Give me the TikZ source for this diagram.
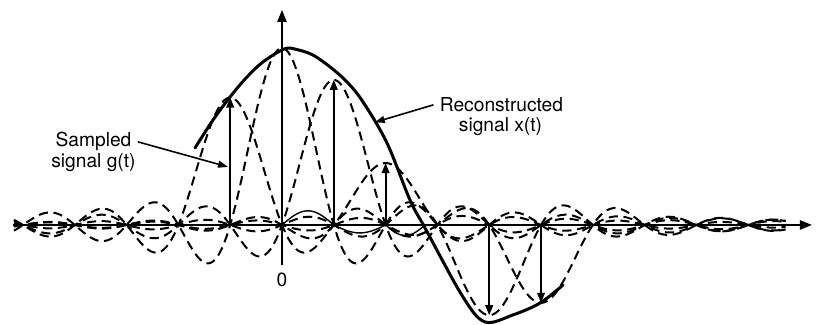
\documentclass[tikz,border=0pt]{standalone}
\usepackage{fontspec}
\setmainfont{TeX Gyre Heros}
\usetikzlibrary{arrows.meta}
\tikzset{
  axis/.style={-{Triangle[length=6pt, width=4.6pt]}, line width=1pt},
  samparr/.style={-{Triangle[length=5pt, width=3.8pt]}, line width=0.9pt},
  labarr/.style={-{Triangle[length=5pt, width=3.4pt]}, line width=0.8pt},
  sincd/.style={dash pattern=on 4.6pt off 2.8pt, line width=1pt},
  recon/.style={line width=1.5pt, line cap=round},
  ripple/.style={line width=0.7pt},
  lab/.style={font=\fontsize{9.6}{11}\selectfont, inner sep=3pt},
}

\begin{document}
\begin{tikzpicture}[x=25.9pt, y=88.5pt,
  declare function={sinc(\t)=sin(deg(pi*\t))/(pi*\t);}]
\useasboundingbox (-5.444,-0.565) rectangle (10.347,1.271);

% ===================== interpolating sinc pulses ===========================
\foreach \k/\g in {-1/0.72, 0/1, 1/0.82, 2/0.35, 4/-0.51, 5/-0.44}{
  \draw[sincd] plot[domain=-5.175:9.725, samples=299] (\x, {\g*sinc(\x-(\k))});}

% small solid ripple near the axis
\draw[ripple] plot[domain=0:1, samples=30] (\x, {0.08*sin(180*\x)})
  -- plot[domain=1:2, samples=30] (\x, {0.045*sin(180*\x)})
  -- plot[domain=2:2.76, samples=25] (\x, {-0.06*sin(180*(\x-2)/0.76)});

% ===================== axes ================================================
\coordinate (xl) at (-5.193,0);
\coordinate (xr) at (10.23,0);
\draw[axis] (xl) -- (xr);
\coordinate (yb) at (0,-0.226);
\coordinate (yt) at (0,1.215);
\draw[axis] (yb) -- (yt);
\node[lab, anchor=base] (zero) at (0,-0.35) {0};

% ===================== samples g(t) ========================================
\foreach \k/\g/\n in {-1/0.72/m1, 1/0.82/p1, 2/0.35/p2, 4/-0.51/p4, 5/-0.44/p5}{
  \coordinate (s\n) at (\k,0);
  \coordinate (g\n) at (\k,\g);
  \draw[samparr] (s\n) -- (g\n);}

% ===================== reconstructed x(t) ==================================
\draw[recon] plot[smooth, tension=0.55] coordinates {
  (-1.680,0.435) (-1.332,0.593) (-1.004,0.723) (-0.676,0.836) (-0.367,0.921)
  (0.05,0.995) (0.30,0.99) (0.598,0.960) (0.927,0.893) (1.255,0.808)
  (1.564,0.695) (2.027,0.463) (2.471,0.141) (2.761,-0.017) (3.494,-0.407)
  (3.919,-0.548) (4.459,-0.508) (4.981,-0.441) (5.425,-0.339)};

% ===================== labels ==============================================
\node[lab, anchor=base] (sgA) at (-3.639,0.441) {Sampled};
\node[lab, anchor=base] (sgB) at (-3.639,0.322) {signal g(t)};
\coordinate (sgtip) at (-1.042,0.328);
\draw[labarr] (sgA.east) -- (sgtip);

\node[lab, anchor=base] (rcA) at (4.237,0.640) {Reconstructed};
\node[lab, anchor=base] (rcB) at (4.218,0.527) {signal x(t)};
\coordinate (rctip) at (1.79,0.58);
\draw[labarr] (rcA.west) -- (rctip);

\end{tikzpicture}
\end{document}
